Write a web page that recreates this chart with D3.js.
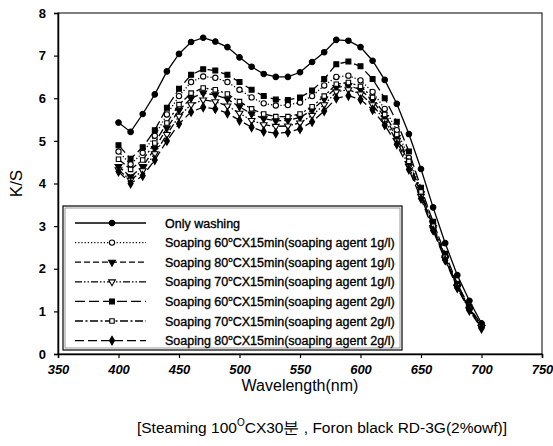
<!DOCTYPE html>
<html>
<head>
<meta charset="utf-8">
<script src="https://cdn.jsdelivr.net/npm/d3@7"></script>
<style>
  body { margin: 0; background: #fff; }
  text { font-family: "Liberation Sans", Arial, sans-serif; fill: #000; }
</style>
</head>
<body>
<svg id="chart" width="553" height="446"></svg>
<script>
// wavelengths (nm)
const wavelengths = [400, 410, 420, 430, 440, 450, 460, 470, 480, 490, 500, 510, 520, 530, 540, 550,
  560, 570, 580, 590, 600, 610, 620, 630, 640, 650, 660, 670, 680, 690, 700];

const onlyWashing = [5.43, 5.21, 5.63, 6.09, 6.63, 7.04, 7.32, 7.42, 7.33, 7.2, 6.96, 6.74, 6.57, 6.5, 6.5, 6.61,
  6.85, 7.08, 7.37, 7.35, 7.2, 6.88, 6.43, 5.87, 5.16, 4.34, 3.44, 2.6, 1.85, 1.25, 0.72];
const soap60_1 = [4.75, 4.45, 4.72, 5.12, 5.62, 6.05, 6.38, 6.51, 6.48, 6.38, 6.2, 6.02, 5.88, 5.83, 5.84, 5.9,
  6.05, 6.3, 6.5, 6.53, 6.42, 6.15, 5.75, 5.25, 4.6, 3.85, 3.05, 2.3, 1.62, 1.08, 0.66];
const soap80_1 = [4.4, 4.16, 4.4, 4.82, 5.3, 5.72, 6.0, 6.12, 6.08, 5.98, 5.8, 5.63, 5.52, 5.47, 5.48, 5.55,
  5.72, 5.98, 6.25, 6.3, 6.2, 5.95, 5.55, 5.08, 4.47, 3.76, 2.97, 2.25, 1.58, 1.05, 0.63];
const soap70_1 = [4.32, 4.08, 4.3, 4.7, 5.15, 5.58, 5.85, 5.96, 5.92, 5.82, 5.65, 5.48, 5.38, 5.34, 5.35, 5.42,
  5.6, 5.85, 6.15, 6.2, 6.1, 5.85, 5.47, 5.0, 4.4, 3.7, 2.93, 2.22, 1.56, 1.03, 0.62];
const soap60_2 = [4.9, 4.58, 4.85, 5.25, 5.78, 6.22, 6.55, 6.68, 6.65, 6.55, 6.38, 6.2, 6.05, 5.97, 5.96, 6.02,
  6.18, 6.45, 6.8, 6.86, 6.75, 6.45, 6.0, 5.45, 4.75, 3.9, 3.1, 2.35, 1.65, 1.1, 0.68];
const soap70_2 = [4.57, 4.33, 4.55, 4.95, 5.42, 5.85, 6.12, 6.24, 6.2, 6.1, 5.92, 5.75, 5.63, 5.57, 5.57, 5.63,
  5.8, 6.05, 6.33, 6.37, 6.28, 6.02, 5.62, 5.15, 4.52, 3.8, 3.0, 2.27, 1.6, 1.06, 0.64];
const soap80_2 = [4.28, 4.0, 4.18, 4.55, 5.0, 5.4, 5.68, 5.79, 5.75, 5.65, 5.48, 5.32, 5.22, 5.18, 5.2, 5.28,
  5.45, 5.7, 6.0, 6.06, 5.97, 5.73, 5.37, 4.92, 4.33, 3.65, 2.9, 2.2, 1.55, 1.02, 0.6];

const seriesNames = ["Only washing", "60|1", "80|1", "70|1", "60|2", "70|2", "80|2"];
const seriesValues = [onlyWashing, soap60_1, soap80_1, soap70_1, soap60_2, soap70_2, soap80_2];
const xTicks = [350, 400, 450, 500, 550, 600, 650, 700, 750];
const yTicks = [0, 1, 2, 3, 4, 5, 6, 7, 8];

// styles per series: dash pattern, marker symbol, filled
const styles = [
  { dash: null, sym: d3.symbolCircle, fill: true, size: 24 },
  { dash: "1.2,2", sym: d3.symbolCircle, fill: false, size: 22 },
  { dash: "6,3", sym: "tri", fill: true, size: 20 },
  { dash: "7,2,1.5,2,1.5,2", sym: "tri", fill: false, size: 20 },
  { dash: "10,4", sym: d3.symbolSquare, fill: true, size: 24 },
  { dash: "8,2.5,2,2.5", sym: d3.symbolSquare, fill: false, size: 20 },
  { dash: "9,4", sym: d3.symbolDiamond, fill: true, size: 22 }
];

const svg = d3.select("#chart");
const margin = { top: 13, right: 11, bottom: 92, left: 58 };
const width = 553 - margin.left - margin.right;
const height = 446 - margin.top - margin.bottom;

const x = d3.scaleLinear().domain([350, 750]).range([margin.left, margin.left + width]);
const y = d3.scaleLinear().domain([0, 8]).range([margin.top + height, margin.top]);

// frame
svg.append("rect")
  .attr("x", margin.left).attr("y", margin.top)
  .attr("width", width).attr("height", height)
  .attr("fill", "none").attr("stroke", "#000").attr("stroke-width", 1);

// axes
const xAxis = svg.append("g")
  .attr("transform", `translate(0, ${margin.top + height})`)
  .call(d3.axisBottom(x).tickValues(xTicks).tickSize(4).tickPadding(7));
xAxis.selectAll("text")
  .style("font-size", "13px").style("font-weight", "bold").style("font-style", "italic");

const yAxis = svg.append("g")
  .attr("transform", `translate(${margin.left}, 0)`)
  .call(d3.axisLeft(y).tickValues(yTicks).tickSize(4).tickPadding(8));
yAxis.selectAll("text")
  .style("font-size", "13px").style("font-weight", "bold");

svg.selectAll(".domain").attr("stroke-width", 1.5);
svg.selectAll(".tick line").attr("stroke-width", 1.2);

function symbolPath(st) {
  if (st.sym === "tri") {
    return d3.symbol().type(d3.symbolTriangle).size(st.size)();
  }
  return d3.symbol().type(st.sym).size(st.size)();
}

const line = d3.line()
  .x((d, i) => x(wavelengths[i]))
  .y((d) => y(d));

seriesValues.forEach((vals, k) => {
  const st = styles[k];
  svg.append("path")
    .datum(vals)
    .attr("fill", "none")
    .attr("stroke", "#000")
    .attr("stroke-width", 1.3)
    .attr("stroke-dasharray", st.dash)
    .attr("d", line);
  svg.append("g").selectAll("path")
    .data(vals)
    .enter()
    .append("path")
    .attr("d", symbolPath(st))
    .attr("transform", (d, i) => `translate(${x(wavelengths[i])},${y(d)})${st.sym === "tri" ? " rotate(180)" : ""}`)
    .attr("fill", st.fill ? "#000" : "#fff")
    .attr("stroke", "#000")
    .attr("stroke-width", 1.1);
});

// legend
const legend = svg.append("g");
legend.append("rect")
  .attr("x", 63).attr("y", 206).attr("width", 339).attr("height", 144)
  .attr("fill", "#fff").attr("stroke", "#000").attr("stroke-width", 1.2);
legend.append("rect")
  .attr("x", 65).attr("y", 208).attr("width", 335).attr("height", 140)
  .attr("fill", "none").attr("stroke", "#555").attr("stroke-width", 0.6);

seriesNames.forEach((name, k) => {
  const st = styles[k];
  const ly = 223 + k * 19.6;
  legend.append("line")
    .attr("x1", 75).attr("x2", 146).attr("y1", ly).attr("y2", ly)
    .attr("stroke", "#000").attr("stroke-width", 1.3)
    .attr("stroke-dasharray", st.dash);
  legend.append("path")
    .attr("d", symbolPath(st))
    .attr("transform", `translate(112,${ly})${st.sym === "tri" ? " rotate(180)" : ""}`)
    .attr("fill", st.fill ? "#000" : "#fff")
    .attr("stroke", "#000").attr("stroke-width", 1.1);
  const t = legend.append("text")
    .attr("x", 165).attr("y", ly + 4.5)
    .style("font-size", "12.5px")
    .style("stroke", "#000").style("stroke-width", 0.35);
  if (k === 0) {
    t.text(name);
  } else {
    const [temp, conc] = name.split("|");
    t.append("tspan").text("Soaping " + temp);
    t.append("tspan").attr("dy", -5).style("font-size", "8px").text("o");
    t.append("tspan").attr("dy", 5).text(`CX15min(soaping agent ${conc}g/l)`);
  }
});

// axis titles
svg.append("text")
  .attr("transform", `translate(22, ${y(4)}) rotate(-90)`)
  .attr("text-anchor", "middle")
  .style("font-size", "17px")
  .text("K/S");

svg.append("text")
  .attr("x", x(550)).attr("y", 391)
  .attr("text-anchor", "middle")
  .style("font-size", "16px")
  .text("Wavelength(nm)");

const sub = svg.append("text")
  .attr("x", 322).attr("y", 433)
  .attr("text-anchor", "middle")
  .style("font-size", "15.5px");
sub.append("tspan").text("[Steaming 100");
sub.append("tspan").attr("dy", -7).style("font-size", "10px").text("O");
sub.append("tspan").attr("dy", 7).text("CX30분 , Foron black RD-3G(2%owf)]");
</script>
</body>
</html>
